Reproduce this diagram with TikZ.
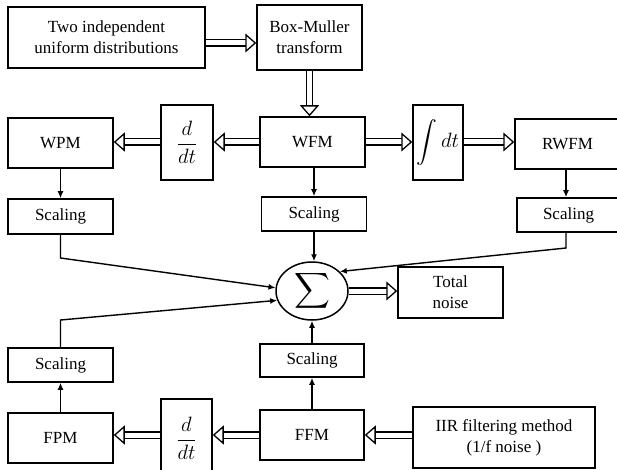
\documentclass[tikz,border=0pt]{standalone}
\usepackage{exscale}
\usepackage{fontspec}
\setmainfont{Liberation Serif}
\usetikzlibrary{arrows.meta,shapes.geometric}
\tikzset{
  box/.style={draw, line width=1.5pt, inner sep=0pt, align=center,
    font=\rmfamily\fontsize{17}{21}\selectfont},
  mbox/.style={box, font=\rmfamily\fontsize{21}{25}\selectfont},
  dbl/.style={double, double distance=5pt, line width=1.3pt,
    -{Triangle[open, length=11pt, width=19pt, line width=1.3pt 0 0]}},
  sarr/.style={line width=1.4pt, -{Latex[length=7pt,width=6pt]}},
}
\begin{document}
\begin{tikzpicture}[x=1pt,y=-1pt]
\useasboundingbox (0,0) rectangle (617,470);
% nodes
\node[box, minimum width=197, minimum height=61] (two) at (106.5,37.5) {Two independent\\uniform distributions};
\node[box, minimum width=105, minimum height=65] (bm) at (309.5,37.5) {Box-Muller\\transform};
\node[box, minimum width=105, minimum height=50] (wpm) at (60.5,143) {WPM};
\node[mbox, minimum width=52, minimum height=75] (dd1) at (187,142.5) {$\displaystyle\frac{d}{dt}$};
\node[box, minimum width=105, minimum height=50] (wfm) at (312.5,142) {WFM};
\node[mbox, minimum width=50, minimum height=75] (int) at (438,142.5) {$\displaystyle\int dt$};
\node[box, minimum width=105, minimum height=50] (rwfm) at (567.5,144) {RWFM};
\node[box, minimum width=105, minimum height=35] (sc1) at (60.5,216.5) {Scaling};
\node[box, minimum width=105, minimum height=34] (sc2) at (314,214) {Scaling};
\node[box, minimum width=103, minimum height=34] (sc3) at (568.5,215) {Scaling};
\node[draw, ellipse, line width=1.5pt, minimum width=72, minimum height=58, inner sep=0pt,
  font=\fontsize{24}{24}\selectfont] (sum) at (312,291) {$\displaystyle\sum$};
\node[box, minimum width=105, minimum height=51] (tot) at (450.5,292.5) {Total\\noise};
\node[box, minimum width=105, minimum height=34] (sc4) at (60.5,365) {Scaling};
\node[box, minimum width=104, minimum height=33] (sc5) at (312,360.5) {Scaling};
\node[box, minimum width=105, minimum height=50] (fpm) at (60.5,438) {FPM};
\node[mbox, minimum width=51, minimum height=79] (dd2) at (186.5,438.5) {$\displaystyle\frac{d}{dt}$};
\node[box, minimum width=104, minimum height=50] (ffm) at (312,435) {FFM};
\node[box, minimum width=182, minimum height=61] (iir) at (504,437.5) {IIR filtering method\\(1/f noise )};
% helper coordinates
\coordinate (y43) at (0,43);
\coordinate (k1) at (60.5,258);
\coordinate (k3) at (566,248);
\coordinate (k4) at (60.5,320);
% double arrows
\draw[dbl] (two.east |- y43) -- (bm.west |- y43);
\draw[dbl] (bm.south) -- (bm.south |- wfm.north);
\draw[dbl] (wfm.west) -- (wfm.west -| dd1.east);
\draw[dbl] (dd1.west |- wfm.west) -- (wfm.west -| wpm.east);
\draw[dbl] (wfm.east) -- (wfm.east -| int.west);
\draw[dbl] (int.east |- wfm.east) -- (wfm.east -| rwfm.west);
\draw[dbl] (sum.east) -- (sum.east -| tot.west);
\draw[dbl] (iir.west |- ffm.west) -- (ffm.east);
\draw[dbl] (ffm.west) -- (ffm.west -| dd2.east);
\draw[dbl] (dd2.west |- ffm.west) -- (ffm.west -| fpm.east);
% single arrows
\draw[sarr] (wpm.south) -- (sc1.north);
\draw[sarr] (wfm.south -| sc2.north) -- (sc2.north);
\draw[sarr] (rwfm.south -| k3) -- (sc3.north -| k3);
\draw[sarr] (sc1.south) -- (k1) -- (sum.175);
\draw[sarr] (sc2.south) -- (sc2.south |- sum.north);
\draw[sarr] (sc3.south -| k3) -- (k3) -- (sum.35);
\draw[sarr] (sc4.north) -- (k4) -- (sum.195);
\draw[sarr] (fpm.north) -- (sc4.south);
\draw[sarr] (ffm.north) -- (sc5.south);
\draw[sarr] (sc5.north) -- (sum.south);
\end{tikzpicture}
\end{document}
